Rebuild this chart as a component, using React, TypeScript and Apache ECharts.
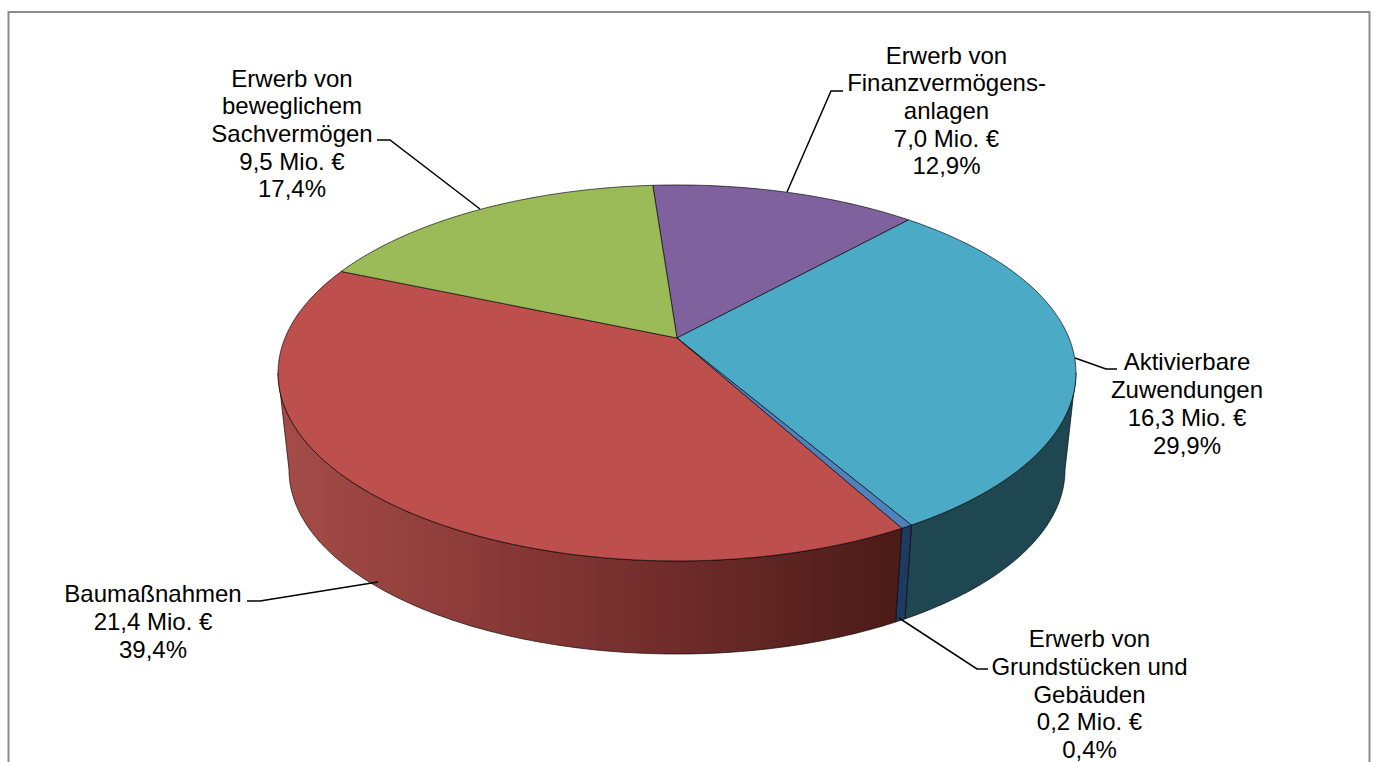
import React, { useEffect, useRef } from "react";
import * as echarts from "echarts";

const categories = [
  "Erwerb von\nFinanzvermögens-\nanlagen",
  "Aktivierbare\nZuwendungen",
  "Erwerb von\nGrundstücken und\nGebäuden",
  "Baumaßnahmen",
  "Erwerb von\nbeweglichem\nSachvermögen",
];
const amounts = ["7,0", "16,3", "0,2", "21,4", "9,5"];
const percents = [12.9, 29.9, 0.4, 39.4, 17.4];
const topColors = ["#7F619E", "#4BAAC5", "#4F81BD", "#BD4F4D", "#9BBB59"];
const wallColors: (string | string[])[] = [
  "#4A3660",
  "#1F4752",
  "#1F3A60",
  ["#A54C48", "#8A3A38", "#6C2A28", "#4A1B18"],
  "#5C7035",
];

// projection of the tilted disc
const CX = 677, CY = 338, A = 392, B = 181.5, P = 0.186, START = -4.2;
const ELL_CY = 373, LOW_CY = 470, LOW_SX = 0.9725, LOW_SY = 0.979;
const VIS_FROM = 100.7, VIS_TO = 259.3;

const rad = (d: number) => (d * Math.PI) / 180;
function upper(deg: number): number[] {
  const u = Math.sin(rad(deg));
  const v = Math.cos(rad(deg));
  const d = 1 + P * v;
  return [CX + (A * u) / d, CY - (B * v) / d];
}
function lower(deg: number): number[] {
  const [x, y] = upper(deg);
  return [CX + (x - CX) * LOW_SX, LOW_CY + (y - ELL_CY) * LOW_SY];
}
function arc(from: number, to: number, fn: (d: number) => number[]): number[][] {
  const n = Math.max(2, Math.ceil(Math.abs(to - from)));
  const pts: number[][] = [];
  for (let i = 0; i <= n; i++) pts.push(fn(from + ((to - from) * i) / n));
  return pts;
}

const total = percents.reduce((a, b) => a + b, 0);
let acc = 0;
const sliceData = percents.map((p, i) => {
  const s = START + (acc / total) * 360;
  acc += p;
  return { value: [s, START + (acc / total) * 360, i] };
});

const FONT = "'Liberation Sans', Arial, sans-serif";
const labelAnchors = [
  [946.5, 110.5],
  [1187, 403.5],
  [1089.5, 694],
  [153, 621.5],
  [292, 133.5],
];
const leaders = [
  [[787, 192], [831, 91], [843, 91]],
  [[1075, 358], [1106, 369], [1117, 369]],
  [[899, 618], [977, 669], [988, 669]],
  [[378, 582], [260, 601], [247, 601]],
  [[480, 209], [390, 140], [377, 140]],
];

export default function App() {
  const ref = useRef<HTMLDivElement>(null);
  useEffect(() => {
    document.body.style.margin = "0";
    document.body.style.background = "#fff";
    const chart = echarts.init(ref.current!, undefined, { renderer: "svg" });
    const outline = { stroke: "rgba(0,0,0,0.8)", lineWidth: 0.8, lineJoin: "round" };
    chart.setOption({
      animation: false,
      backgroundColor: "#fff",
      series: [
        {
          type: "custom",
          coordinateSystem: "none",
          silent: true,
          z: 1,
          data: sliceData,
          renderItem: (_p: any, api: any) => {
            const s = Math.max(api.value(0), VIS_FROM);
            const e = Math.min(api.value(1), VIS_TO);
            if (e <= s) return { type: "group", children: [] };
            const c = wallColors[api.value(2)];
            const fill = Array.isArray(c)
              ? new echarts.graphic.LinearGradient(
                  0, 0, 1, 0,
                  c.map((color, k) => ({ offset: k / (c.length - 1), color }))
                )
              : c;
            return {
              type: "polygon",
              shape: { points: [...arc(s, e, upper), ...arc(e, s, lower)] },
              style: { fill, ...outline },
            };
          },
        },
        {
          type: "custom",
          coordinateSystem: "none",
          silent: true,
          z: 2,
          data: sliceData,
          renderItem: (_p: any, api: any) => ({
            type: "polygon",
            shape: { points: [[CX, CY], ...arc(api.value(0), api.value(1), upper)] },
            style: { fill: topColors[api.value(2)], ...outline },
          }),
        },
      ],
      graphic: [
        {
          type: "polyline",
          z: 5,
          shape: { points: [[8.5, 762], [8.5, 12], [1369.5, 12], [1369.5, 762]] },
          style: { fill: "none", stroke: "#8c8c8c", lineWidth: 2 },
        },
        ...leaders.map((points) => ({
          type: "polyline",
          z: 6,
          shape: { points },
          style: { fill: "none", stroke: "#000", lineWidth: 1.5 },
        })),
        ...categories.map((name, i) => ({
          type: "text",
          z: 7,
          x: labelAnchors[i][0],
          y: labelAnchors[i][1],
          style: {
            text: `${name}\n${amounts[i]} Mio. €\n${String(percents[i]).replace(".", ",")}%`,
            fill: "#000",
            font: `24px ${FONT}`,
            lineHeight: 27.7,
            align: "center",
            verticalAlign: "middle",
          },
        })),
      ],
    });
    return () => chart.dispose();
  }, []);
  return <div ref={ref} style={{ width: 1375, height: 762, overflow: "hidden" }} />;
}
